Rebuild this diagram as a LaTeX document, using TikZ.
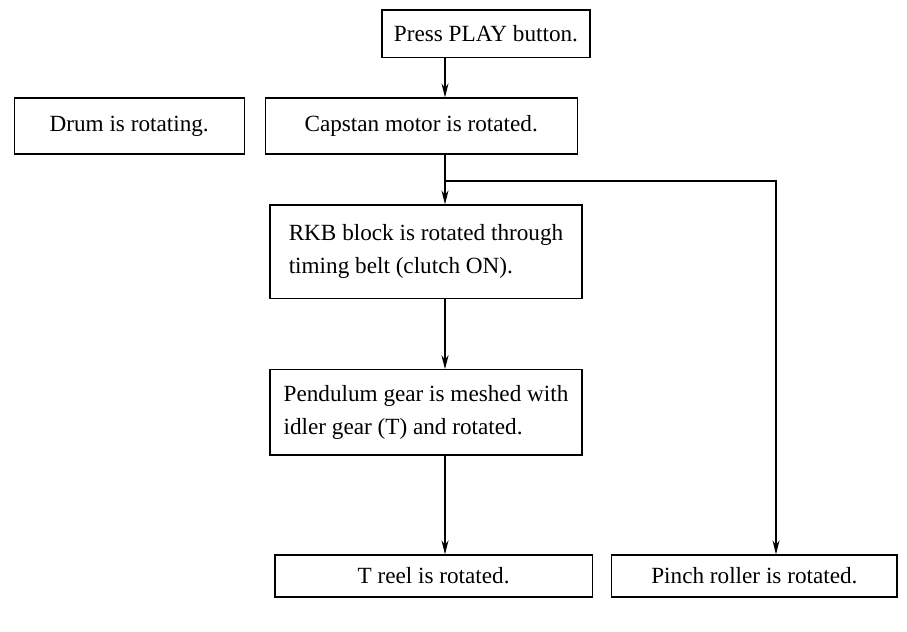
\documentclass[tikz,border=0pt]{standalone}
\usepackage{fontspec}
\setmainfont{Liberation Serif}
\usetikzlibrary{arrows.meta}

\begin{document}
\begin{tikzpicture}[
    box/.style={draw, thick, minimum height=1.05cm, inner sep=3pt, font=\fontsize{16.5}{23.5}\selectfont},
    arrow/.style={-{Stealth[length=10pt, width=5pt]}, thick}
]
\useasboundingbox (0,0) rectangle (22.675,-15.8);

% Boxes
\node[box, minimum width=5.2cm, minimum height=1.18cm] (play) at (12.15,-0.84) {Press PLAY button.};
\node[box, minimum width=5.75cm, minimum height=1.4cm] (drum) at (3.23,-3.15) {Drum is rotating.};
\node[box, minimum width=7.8cm, minimum height=1.4cm] (cap) at (10.53,-3.15) {Capstan motor is rotated.};
\node[box, minimum width=7.8cm, minimum height=2.33cm, align=left] (rkb) at (10.65,-6.29) {RKB block is rotated through\\timing belt (clutch ON).};
\node[box, minimum width=7.8cm, minimum height=2.13cm, align=left] (pend) at (10.65,-10.31) {Pendulum gear is meshed with\\idler gear (T) and rotated.};
\node[box, minimum width=7.93cm] (treel) at (10.84,-14.4) {T reel is rotated.};
\node[box, minimum width=7.13cm] (pinch) at (18.86,-14.4) {Pinch roller is rotated.};

% Connectors
\coordinate (split) at (11.125,-4.525);
\coordinate (turn) at (19.4,-4.525);
\draw[arrow] (play.south -| split) -- (cap.north -| split);
\draw[arrow] (cap.south -| split) -- (rkb.north -| split);
\draw[arrow] (split) -- (turn) -- (pinch.north -| turn);
\draw[arrow] (rkb.south -| split) -- (pend.north -| split);
\draw[arrow] (pend.south -| split) -- (treel.north -| split);

\end{tikzpicture}
\end{document}
